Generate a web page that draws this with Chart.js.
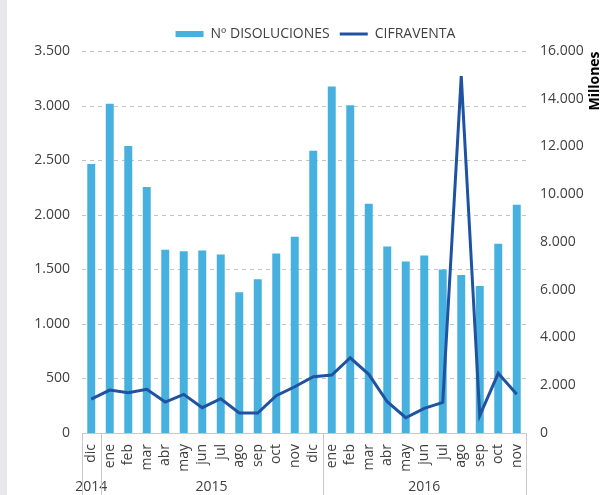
<!DOCTYPE html>
<html>
<head>
<meta charset="utf-8">
<script src="https://cdn.jsdelivr.net/npm/chart.js@4"></script>
<style>
  html, body { margin: 0; padding: 0; background: #fff; }
  #wrap { width: 603px; height: 495px; }
</style>
</head>
<body>
<div id="wrap"><canvas id="myChart" width="603" height="495"></canvas></div>
<script>
// data
const months = ['dic','ene','feb','mar','abr','may','jun','jul','ago','sep','oct','nov',
                'dic','ene','feb','mar','abr','may','jun','jul','ago','sep','oct','nov'];
const years = ['2014', '2015', '2016'];
const monthsPerYear = [1, 12, 11];

const disoluciones = [2465, 3016, 2630, 2255, 1679, 1666, 1673, 1636, 1289, 1408, 1645, 1798,
                      2587, 3175, 3004, 2100, 1709, 1572, 1627, 1499, 1447, 1346, 1734, 2091];
const cifraventa = [1423, 1799, 1686, 1828, 1297, 1619, 1059, 1435, 837, 837, 1561, 1937,
                    2356, 2427, 3151, 2456, 1310, 640, 1033, 1284, 14950, 724, 2498, 1619];

const textColor = '#404040';
const font = 'Open Sans';

const fmt = (v) => String(v).replace(/\B(?=(\d{3})+(?!\d))/g, '.');

// gray strip, dashed gridlines, year grouping under the month labels
const extras = {
  id: 'extras',
  beforeDraw(chart) {
    const ctx = chart.ctx;
    ctx.save();
    ctx.fillStyle = '#fff';
    ctx.fillRect(0, 0, chart.width, chart.height);
    ctx.fillStyle = '#e8e8ea';
    ctx.fillRect(0, 0, 7, chart.height);
    ctx.restore();
  },
  beforeDatasetsDraw(chart) {
    const ctx = chart.ctx;
    const y = chart.scales.y;
    const area = chart.chartArea;
    ctx.save();
    ctx.strokeStyle = '#c4c4c4';
    ctx.lineWidth = 1;
    ctx.setLineDash([4, 4]);
    y.ticks.forEach(t => {
      if (t.value === 0) return;
      const py = Math.round(y.getPixelForValue(t.value)) + 0.5;
      ctx.beginPath();
      ctx.moveTo(area.left, py);
      ctx.lineTo(area.right, py);
      ctx.stroke();
    });
    ctx.restore();
  },
  afterDraw(chart) {
    const ctx = chart.ctx;
    const x = chart.scales.x;
    const area = chart.chartArea;
    const half = (x.getPixelForValue(1) - x.getPixelForValue(0)) / 2;
    ctx.save();
    ctx.strokeStyle = '#c8c8c8';
    ctx.lineWidth = 1;
    ctx.fillStyle = textColor;
    ctx.font = '14px "' + font + '"';
    ctx.textAlign = 'center';
    ctx.textBaseline = 'middle';
    let start = 0;
    const bounds = [x.getPixelForValue(0) - half];
    years.forEach((y, i) => {
      const end = start + monthsPerYear[i] - 1;
      const l = x.getPixelForValue(start) - half;
      const r = x.getPixelForValue(end) + half;
      bounds.push(r);
      ctx.fillText(y, (l + r) / 2, 487);
      start = end + 1;
    });
    bounds.forEach(b => {
      const px = Math.round(b) + 0.5;
      ctx.beginPath();
      ctx.moveTo(px, area.bottom);
      ctx.lineTo(px, chart.height);
      ctx.stroke();
    });
    // right axis unit
    ctx.fillStyle = '#000';
    ctx.font = 'bold 14px "' + font + '"';
    ctx.translate(595, 81);
    ctx.rotate(-Math.PI / 2);
    ctx.fillText('Millones', 0, 0);
    ctx.restore();
  }
};

const ctx = document.getElementById('myChart');

new Chart(ctx, {
  type: 'bar',
  data: {
    labels: months,
    datasets: [{
      type: 'bar',
      label: 'Nº DISOLUCIONES',
      data: disoluciones,
      backgroundColor: '#46b0de',
      barPercentage: 0.43,
      categoryPercentage: 1,
      yAxisID: 'y',
      order: 1
    }, {
      type: 'line',
      label: 'CIFRAVENTA',
      data: cifraventa,
      borderColor: '#1f52a0',
      backgroundColor: '#1f52a0',
      borderWidth: 3,
      pointRadius: 0,
      tension: 0,
      yAxisID: 'y2',
      order: 0
    }]
  },
  options: {
    responsive: false,
    animation: false,
    layout: { padding: { left: 28, top: 17, right: 0, bottom: 0 } },
    plugins: {
      tooltip: { enabled: false },
      legend: {
        position: 'top',
        labels: {
          color: textColor,
          font: { family: font, size: 14 },
          usePointStyle: true,
          pointStyleWidth: 28,
          boxHeight: 6,
          padding: 10,
          generateLabels: (chart) => chart.data.datasets.map((ds, i) => ({
            text: ds.label,
            fillStyle: ds.backgroundColor,
            strokeStyle: ds.type === 'line' ? ds.borderColor : ds.backgroundColor,
            lineWidth: ds.type === 'line' ? 3 : 0,
            pointStyle: ds.type === 'line' ? 'line' : 'rect',
            fontColor: textColor,
            datasetIndex: i
          }))
        }
      }
    },
    scales: {
      x: {
        grid: { display: false },
        border: { color: '#c8c8c8' },
        ticks: {
          autoSkip: false,
          maxRotation: 90,
          minRotation: 90,
          padding: 3,
          color: textColor,
          font: { family: font, size: 14 }
        },
        afterFit: (s) => { s.height = 62; }
      },
      y: {
        position: 'left',
        min: 0,
        max: 3500,
        ticks: {
          stepSize: 500,
          padding: 12,
          color: textColor,
          font: { family: font, size: 14 },
          callback: (v) => fmt(v)
        },
        grid: { display: false, drawTicks: false },
        border: { display: false },
        afterFit: (s) => { s.width = 54; }
      },
      y2: {
        position: 'right',
        min: 0,
        max: 16000,
        ticks: {
          stepSize: 2000,
          padding: 14,
          color: textColor,
          font: { family: font, size: 14 },
          callback: (v) => fmt(v)
        },
        grid: { display: false, drawTicks: false },
        border: { display: false },
        afterFit: (s) => { s.width = 77; }
      }
    }
  },
  plugins: [extras]
});
</script>
</body>
</html>
